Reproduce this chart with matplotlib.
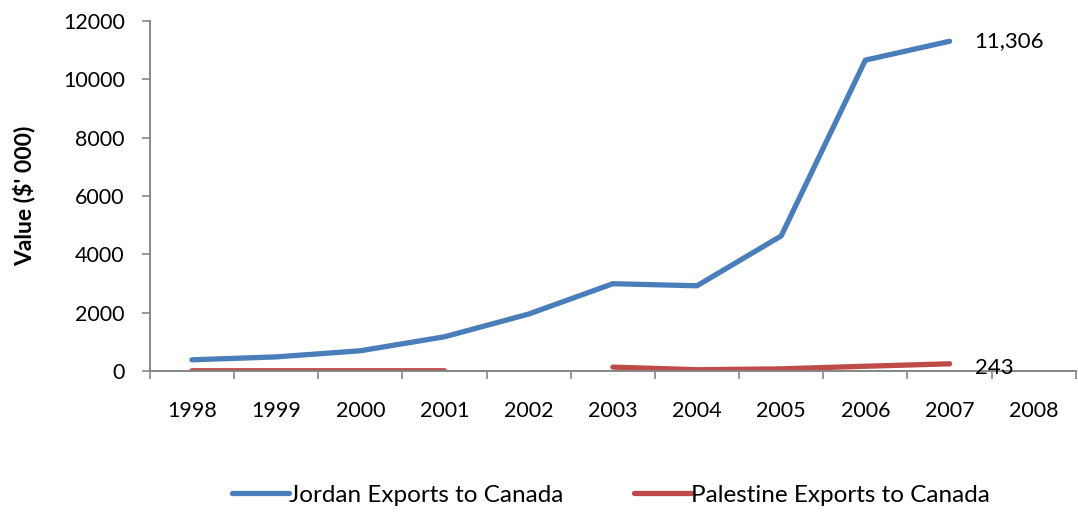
import matplotlib.pyplot as plt
import numpy as np

# Export values, thousands of dollars
years = ["1998", "1999", "2000", "2001", "2002", "2003", "2004", "2005", "2006", "2007", "2008"]
jordan = [380, 480, 690, 1170, 1950, 2990, 2920, 4630, 10660, 11306, np.nan]
palestine = [5, 5, 5, 5, np.nan, 130, 40, 70, 160, 243, np.nan]

BLUE = "#4A7EBB"
RED = "#BE4B48"
GREY = "#868686"

plt.rcParams["font.family"] = ["Lato", "DejaVu Sans"]

fig = plt.figure(figsize=(10.78, 5.13), dpi=100)
ax = fig.add_axes([0.139, 0.277, 0.859, 0.682])

x = np.arange(len(years))
ax.plot(x, jordan, color=BLUE, lw=3.8, solid_capstyle="round", solid_joinstyle="round",
        label="Jordan Exports to Canada")
ax.plot(x, palestine, color=RED, lw=3.8, solid_capstyle="round", solid_joinstyle="round",
        label="Palestine Exports to Canada")

# end-of-line value labels
ax.annotate(f"{jordan[9]:,.0f}", (x[9], jordan[9]), xytext=(18, 0), textcoords="offset points",
            va="center", ha="left", fontsize=16)
ax.annotate(f"{palestine[9]:,.0f}", (x[9], palestine[9]), xytext=(18, -3), textcoords="offset points",
            va="center", ha="left", fontsize=16)

ax.set_xlim(-0.5, len(years) - 0.5)
ax.set_ylim(0, 12000)
ax.set_yticks(range(0, 12001, 2000))
ax.set_xticks(x)
ax.set_xticklabels(years)
ax.set_xticks(np.arange(-0.5, len(years), 1), minor=True)
ax.tick_params(axis="x", which="major", length=0, pad=22, labelsize=15.5)
ax.tick_params(axis="x", which="minor", length=6, color=GREY, width=1.2)
ax.tick_params(axis="y", length=6, color=GREY, width=1.2, labelsize=15.5, pad=12)

for side in ["top", "right"]:
    ax.spines[side].set_visible(False)
for side in ["left", "bottom"]:
    ax.spines[side].set_color(GREY)
    ax.spines[side].set_linewidth(1.4)

ax.set_ylabel("Value ($' 000)", fontsize=16.5, fontweight="bold", labelpad=20)

fig.legend(loc="center", bbox_to_anchor=(0.567, 0.035), ncol=2, frameon=False, fontsize=17.5,
           handlelength=2.35, handletextpad=0.0, columnspacing=2.9)

fig.savefig("out.png", dpi=100)
